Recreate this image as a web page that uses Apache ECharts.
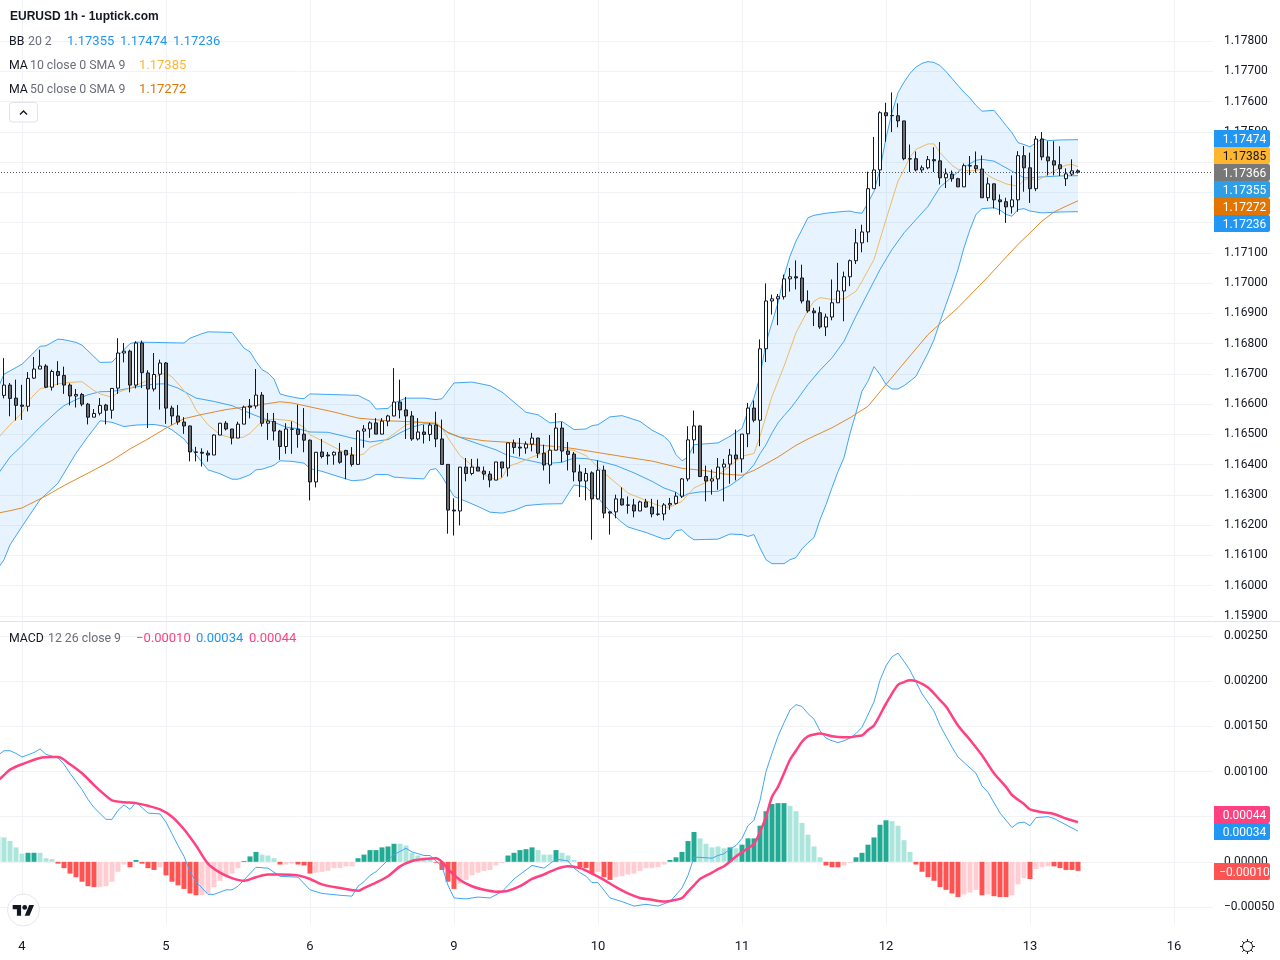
<!DOCTYPE html>
<html>
<head>
<meta charset="utf-8">
<style>html,body{margin:0;padding:0;background:#fff}#c{width:1280px;height:960px}</style>
<script src="https://cdn.jsdelivr.net/npm/echarts@6/dist/echarts.min.js"></script>
</head>
<body>
<div id="c"></div>
<script>
const opens = [1.1664,
1.16629,1.16663,1.1662,1.16597,1.16593,1.16686,1.16716,1.16726,1.16656,1.16708,
1.16695,1.16663,1.16627,1.16632,1.166,1.16557,1.1657,1.16597,1.1658,1.16653,
1.16769,1.16775,1.16663,1.16802,1.16703,1.1665,1.16699,1.16736,1.16587,1.16561,
1.16541,1.16528,1.16442,1.16441,1.16438,1.16432,1.16498,1.16537,1.16518,1.16488,
1.16534,1.16594,1.16594,1.1663,1.16537,1.16543,1.16511,1.1646,1.16517,1.16517,
1.16501,1.16481,1.16343,1.16442,1.16432,1.16432,1.16442,1.16447,1.16432,1.16401,
1.16511,1.16518,1.16538,1.16501,1.16544,1.16561,1.16607,1.16581,1.16561,1.16485,
1.16508,1.165,1.16531,1.16485,1.16401,1.1625,1.16247,1.16392,1.16371,1.16392,
1.16379,1.16369,1.16349,1.16409,1.16389,1.16472,1.16458,1.16455,1.16468,1.16488,
1.16438,1.16399,1.16448,1.16521,1.16445,1.16435,1.16376,1.16346,1.16373,1.16287,
1.16382,1.16244,1.16244,1.16287,1.16267,1.16267,1.16247,1.16277,1.1626,1.16237,
1.16237,1.16267,1.16272,1.16296,1.16353,1.16482,1.16528,1.16361,1.16346,1.16353,
1.16392,1.16402,1.16432,1.16419,1.16502,1.16587,1.16547,1.16783,1.16941,1.16948,
1.16955,1.17014,1.17021,1.17017,1.16941,1.16908,1.16902,1.16855,1.16888,1.16935,
1.16974,1.17021,1.17074,1.17133,1.17169,1.17312,1.17374,1.17563,1.17553,1.17553,
1.17536,1.17411,1.17411,1.17374,1.17381,1.17408,1.17404,1.17348,1.1736,1.17345,
1.17318,1.17388,1.17388,1.17377,1.17282,1.17328,1.17275,1.17269,1.17252,1.17275,
1.17421,1.17381,1.17312,1.17476,1.17417,1.17404,1.17391,1.17345,1.1736,1.17371];
const closes = [1.1663,
1.16663,1.16619,1.16596,1.16593,1.16685,1.16716,1.16726,1.16656,1.16708,1.16695,
1.16663,1.16627,1.16632,1.166,1.16557,1.16569,1.16596,1.1658,1.16652,1.16769,
1.16775,1.16663,1.16802,1.16704,1.1665,1.16698,1.16736,1.16587,1.16561,1.16541,
1.16528,1.16442,1.16441,1.16438,1.16432,1.16498,1.16537,1.16518,1.16488,1.16534,
1.1659,1.1659,1.1663,1.16537,1.16544,1.16511,1.1646,1.16518,1.16518,1.165,
1.16481,1.16343,1.16441,1.16427,1.16429,1.16441,1.16408,1.16432,1.16401,1.16511,
1.16518,1.16538,1.16501,1.16544,1.16561,1.16607,1.16581,1.16561,1.16485,1.16508,
1.165,1.16531,1.16485,1.16401,1.1625,1.16247,1.16392,1.16371,1.16392,1.16379,
1.16369,1.16349,1.16409,1.16389,1.16472,1.16457,1.16455,1.16468,1.16488,1.16438,
1.16399,1.16448,1.16521,1.16445,1.16434,1.16376,1.16346,1.16371,1.16287,1.16382,
1.1624,1.1624,1.16287,1.16267,1.16266,1.16247,1.16277,1.1626,1.16237,1.16236,
1.16267,1.16272,1.16296,1.16353,1.16482,1.16528,1.16361,1.16346,1.16353,1.16392,
1.16402,1.16432,1.16419,1.16501,1.16587,1.16547,1.16783,1.16941,1.16948,1.16955,
1.17014,1.17021,1.17017,1.16941,1.16908,1.16902,1.16855,1.16888,1.16935,1.16974,
1.17021,1.17074,1.17133,1.17169,1.17312,1.17374,1.17563,1.17553,1.17554,1.17536,
1.17411,1.1741,1.17374,1.17381,1.17408,1.17404,1.17348,1.17361,1.17345,1.17318,
1.17388,1.17387,1.17378,1.17282,1.17328,1.17275,1.17269,1.17252,1.17275,1.17421,
1.17381,1.17312,1.17476,1.17417,1.17404,1.1739,1.17378,1.17361,1.17371,1.17366];
const highs = [1.1669,
1.16752,1.1667,1.16681,1.16664,1.16706,1.16756,1.1678,1.16732,1.16714,1.16742,
1.16724,1.16669,1.1665,1.16637,1.16604,1.16584,1.1662,1.16601,1.16653,1.16818,
1.16802,1.1678,1.16808,1.1681,1.16712,1.16769,1.16747,1.16739,1.16595,1.16597,
1.16557,1.16529,1.16459,1.16454,1.16447,1.165,1.16537,1.16544,1.16518,1.16542,
1.16595,1.16617,1.16716,1.1664,1.16571,1.16571,1.16515,1.16537,1.16543,1.16598,
1.16587,1.16483,1.16442,1.16485,1.16442,1.16444,1.16472,1.16449,1.16458,1.16514,
1.16531,1.16543,1.16554,1.16554,1.16565,1.16719,1.16681,1.16624,1.16577,1.16554,
1.16532,1.16538,1.16575,1.16549,1.16402,1.16289,1.16392,1.16422,1.16419,1.1642,
1.16394,1.16379,1.16409,1.16409,1.16472,1.16483,1.16488,1.16477,1.16505,1.16489,
1.16466,1.16498,1.16571,1.16541,1.16475,1.16442,1.164,1.16389,1.16378,1.16414,
1.16397,1.16246,1.16301,1.16325,1.16295,1.16287,1.16281,1.16287,1.16287,1.16284,
1.16273,1.1629,1.16309,1.16356,1.16527,1.16579,1.1653,1.16397,1.16384,1.16422,
1.16419,1.16452,1.16516,1.16501,1.16604,1.16612,1.16814,1.16999,1.16962,1.16964,
1.17028,1.1705,1.17075,1.17061,1.16976,1.16918,1.16922,1.16899,1.17012,1.17067,
1.17038,1.17078,1.17179,1.17193,1.17368,1.17483,1.17568,1.17596,1.1763,1.17594,
1.17536,1.17458,1.17435,1.17389,1.1742,1.17449,1.17466,1.17379,1.17372,1.17348,
1.17395,1.1742,1.17435,1.17422,1.17349,1.17328,1.17293,1.17282,1.17356,1.17436,
1.17453,1.17431,1.17486,1.17499,1.17469,1.17469,1.17452,1.17379,1.17409,1.17376];
const lows = [1.1661,
1.16619,1.1656,1.16546,1.16548,1.16576,1.16683,1.16716,1.16653,1.16645,1.16663,
1.16634,1.16596,1.16589,1.16593,1.16533,1.16557,1.16563,1.16533,1.16552,1.16634,
1.16738,1.16639,1.16652,1.16653,1.16521,1.16642,1.16582,1.16535,1.16532,1.16532,
1.16502,1.16411,1.16411,1.16394,1.1641,1.16432,1.16498,1.16513,1.16467,1.16488,
1.16534,1.16553,1.16585,1.16526,1.16482,1.1648,1.16416,1.16436,1.16436,1.16456,
1.16441,1.16282,1.16325,1.16421,1.164,1.164,1.16403,1.16352,1.16394,1.16399,
1.16456,1.16489,1.16501,1.16501,1.16527,1.1656,1.16553,1.16485,1.16479,1.1648,
1.1647,1.16478,1.16458,1.164,1.16172,1.16166,1.16199,1.16345,1.16365,1.16379,
1.1635,1.16325,1.16349,1.16358,1.16361,1.16436,1.16427,1.16436,1.16444,1.16422,
1.16381,1.16337,1.16447,1.16408,1.16381,1.16345,1.16293,1.16282,1.16152,1.16284,
1.16223,1.16169,1.16223,1.16265,1.16238,1.16226,1.16247,1.16258,1.16226,1.16231,
1.16216,1.16251,1.16268,1.1629,1.16345,1.16437,1.16359,1.16279,1.16301,1.16317,
1.16279,1.16337,1.16348,1.16374,1.16458,1.1654,1.16461,1.16739,1.16896,1.16861,
1.16946,1.16972,1.16979,1.16933,1.16902,1.16858,1.16849,1.16825,1.16877,1.16935,
1.16874,1.1699,1.17063,1.17102,1.17135,1.17312,1.1732,1.17467,1.17499,1.17515,
1.17406,1.17367,1.17369,1.17365,1.17376,1.17367,1.17326,1.17314,1.17335,1.17318,
1.17318,1.17357,1.17365,1.17282,1.17271,1.17247,1.17226,1.17199,1.1723,1.17236,
1.17302,1.17265,1.17304,1.17406,1.17356,1.17356,1.17354,1.17321,1.17354,1.17362];

// Indicator curves: [bar number, value]
const bbUpper = [[0,1.16653],[1,1.16699],[4,1.16732],[7,1.16791],[8,1.16793],[10,1.16815],[11,1.16813],[13,1.16804],[14,1.16795],[17,1.16738],[19,1.16739],[20,1.1676],[22,1.168],[23,1.16805],[26,1.16804],[31,1.16802],[32,1.16818],[34,1.16833],[35,1.16839],[39,1.16837],[41,1.16785],[42,1.16773],[43,1.16741],[44,1.16714],[45,1.16703],[46,1.16683],[47,1.16634],[48,1.16628],[50,1.1662],[51,1.16618],[52,1.16634],[60,1.16629],[62,1.16609],[63,1.16584],[65,1.16586],[66,1.16604],[68,1.1662],[71,1.1662],[73,1.16615],[74,1.16618],[76,1.1667],[79,1.16673],[82,1.16661],[84,1.1664],[88,1.16573],[90,1.16565],[92,1.16538],[94,1.16543],[96,1.16516],[98,1.16518],[99,1.16529],[100,1.16532],[102,1.16558],[104,1.16562],[107,1.16543],[109,1.16514],[111,1.16494],[112,1.16474],[113,1.16433],[114,1.16413],[115,1.16425],[116,1.16466],[120,1.16472],[122,1.16494],[124,1.1652],[125,1.16578],[126,1.16621],[127,1.16692],[128,1.16803],[129,1.16869],[130,1.16935],[131,1.17023],[132,1.17089],[133,1.17139],[134,1.17177],[135,1.17216],[136,1.17224],[138,1.17231],[141,1.17237],[142,1.17238],[143,1.17233],[144,1.17231],[145,1.17265],[146,1.17304],[147,1.17375],[148,1.1748],[149,1.17563],[150,1.17629],[151,1.17664],[152,1.17693],[153,1.17714],[154,1.17726],[155,1.17732],[156,1.17729],[157,1.17719],[158,1.17699],[159,1.17676],[160,1.17653],[161,1.17631],[162,1.17611],[163,1.17587],[164,1.17568],[166,1.17571],[167,1.17546],[168,1.17521],[169,1.17497],[170,1.17464],[171,1.17458],[172,1.1745],[173,1.17464],[174,1.17477],[175,1.17471],[177,1.17473],[180,1.17474]];
const bbLower = [[0,1.16058],[1,1.16086],[2,1.16135],[4,1.16196],[7,1.16284],[10,1.16339],[13,1.16438],[15,1.16493],[17,1.16545],[19,1.1654],[21,1.16526],[23,1.16531],[26,1.16533],[28,1.16526],[29,1.16515],[31,1.16485],[33,1.16433],[35,1.16383],[37,1.1637],[39,1.16352],[40,1.16352],[41,1.16359],[42,1.16367],[43,1.16383],[44,1.16385],[46,1.16398],[47,1.16413],[49,1.16411],[51,1.16405],[52,1.16387],[54,1.16378],[57,1.16359],[59,1.16347],[61,1.1635],[62,1.16357],[63,1.16368],[65,1.16367],[66,1.16359],[68,1.16356],[71,1.16353],[72,1.16383],[73,1.16387],[74,1.16361],[76,1.16295],[78,1.16279],[80,1.16262],[82,1.16243],[84,1.1624],[86,1.16249],[88,1.16265],[91,1.1627],[94,1.16271],[96,1.16333],[98,1.16326],[99,1.16306],[100,1.1629],[102,1.16246],[103,1.16227],[104,1.16209],[105,1.16194],[108,1.16176],[110,1.16161],[111,1.16154],[112,1.16157],[113,1.16182],[114,1.16185],[115,1.16165],[116,1.16152],[120,1.16154],[122,1.16171],[124,1.16169],[125,1.16163],[126,1.16169],[127,1.16125],[128,1.16086],[129,1.16073],[131,1.16073],[132,1.16086],[133,1.16093],[134,1.16122],[135,1.16142],[136,1.16159],[137,1.16218],[138,1.16268],[139,1.16324],[140,1.16377],[141,1.16423],[142,1.16503],[143,1.16571],[144,1.16643],[145,1.16676],[146,1.16724],[147,1.16698],[148,1.16665],[149,1.1665],[150,1.1665],[151,1.16661],[152,1.16676],[153,1.16692],[154,1.16731],[155,1.16769],[156,1.16813],[157,1.16873],[158,1.16929],[159,1.16985],[160,1.17045],[161,1.17117],[162,1.17177],[163,1.17227],[164,1.17246],[166,1.17249],[167,1.17241],[168,1.17227],[169,1.17221],[170,1.17243],[171,1.17246],[172,1.17238],[174,1.17232],[177,1.17235],[180,1.17236]];
const bbMiddle = [[0,1.16369],[2,1.16425],[4,1.16463],[7,1.16524],[10,1.16579],[11,1.16595],[13,1.16615],[15,1.16631],[17,1.16641],[19,1.16642],[22,1.16653],[25,1.16664],[27,1.16667],[28,1.16667],[30,1.16653],[33,1.1662],[36,1.16609],[39,1.16595],[42,1.1657],[44,1.16554],[46,1.1654],[48,1.16524],[50,1.16519],[52,1.16508],[55,1.16507],[59,1.16488],[62,1.16475],[65,1.16483],[67,1.16505],[69,1.16524],[71,1.16535],[73,1.16535],[75,1.16505],[78,1.16483],[80,1.16469],[83,1.16449],[85,1.1643],[88,1.16416],[91,1.16403],[94,1.16408],[96,1.16422],[98,1.1642],[100,1.16413],[103,1.16397],[106,1.16373],[109,1.16345],[111,1.16323],[113,1.16309],[114,1.16293],[115,1.16304],[117,1.1631],[120,1.16312],[122,1.16331],[124,1.16359],[125,1.16378],[126,1.164],[127,1.16436],[128,1.16466],[129,1.16505],[130,1.16538],[131,1.16562],[132,1.16584],[133,1.1661],[135,1.16665],[137,1.16712],[139,1.16753],[141,1.16808],[143,1.16891],[145,1.16968],[147,1.17045],[149,1.17111],[151,1.17166],[153,1.1721],[155,1.17254],[157,1.17317],[159,1.17351],[161,1.17383],[163,1.17406],[164,1.17409],[166,1.17403],[167,1.17392],[169,1.1737],[171,1.17348],[172,1.17348],[174,1.17351],[177,1.17354],[180,1.17355]];
const ma10 = [[0,1.16488],[2,1.16532],[4,1.16571],[5,1.16609],[7,1.16651],[8,1.16655],[10,1.16667],[12,1.16672],[14,1.16674],[16,1.16645],[17,1.16634],[19,1.16623],[20,1.16639],[22,1.16653],[24,1.1667],[27,1.16697],[28,1.16703],[29,1.1669],[31,1.16645],[32,1.1662],[33,1.16581],[35,1.16532],[37,1.16499],[39,1.16488],[41,1.16491],[42,1.16504],[44,1.16543],[46,1.16551],[49,1.16545],[51,1.16524],[52,1.16499],[54,1.16479],[56,1.16458],[58,1.16438],[60,1.1643],[61,1.16436],[62,1.16457],[64,1.16474],[66,1.16502],[68,1.16532],[70,1.1654],[73,1.1654],[74,1.16521],[75,1.16488],[77,1.1643],[78,1.16414],[81,1.16367],[83,1.1635],[84,1.16356],[85,1.16394],[87,1.16408],[89,1.16425],[92,1.16446],[94,1.16453],[96,1.16447],[98,1.1643],[100,1.16392],[102,1.16356],[104,1.16323],[105,1.16306],[107,1.1629],[109,1.16273],[111,1.16259],[112,1.1626],[114,1.16279],[115,1.16301],[116,1.16323],[118,1.16342],[120,1.16367],[122,1.16395],[124,1.16428],[126,1.16437],[127,1.16494],[129,1.16626],[131,1.16725],[133,1.16836],[135,1.16911],[136,1.1694],[137,1.16952],[139,1.16946],[141,1.16948],[143,1.16973],[144,1.17006],[146,1.17078],[148,1.1721],[150,1.17337],[151,1.17375],[152,1.17417],[153,1.17442],[155,1.1746],[156,1.1746],[157,1.17431],[159,1.17389],[160,1.17376],[162,1.1737],[164,1.17376],[165,1.17356],[166,1.17345],[168,1.17328],[170,1.1732],[171,1.1734],[172,1.17348],[173,1.17337],[175,1.17359],[177,1.17381],[178,1.1739],[179,1.17392],[180,1.17385]];
const ma50 = [[0,1.1624],[2,1.16248],[4,1.16257],[7,1.16287],[8,1.16297],[11,1.16331],[15,1.16372],[19,1.16414],[22,1.16452],[25,1.16485],[28,1.16521],[31,1.16552],[34,1.16566],[38,1.16582],[42,1.16593],[45,1.16602],[47,1.16608],[49,1.16604],[52,1.16591],[56,1.16574],[60,1.16554],[65,1.16545],[70,1.16541],[73,1.16535],[75,1.16507],[77,1.16491],[81,1.16479],[85,1.16474],[90,1.16465],[94,1.16458],[96,1.16453],[100,1.1644],[105,1.16424],[109,1.16412],[114,1.16388],[118,1.1638],[121,1.16369],[124,1.16365],[126,1.16381],[128,1.16403],[130,1.16425],[133,1.16464],[135,1.16485],[139,1.16522],[142,1.16555],[145,1.16593],[148,1.16665],[151,1.16736],[155,1.1683],[160,1.16919],[165,1.17021],[170,1.17128],[172,1.17166],[174,1.17205],[176,1.17235],[178,1.17254],[180,1.17272]];
const macdLine = [[0,.00118],[1,.00123],[2,.00123],[3,.0012],[4,.00116],[6,.00121],[7,.00125],[8,.00119],[10,.00115],[11,.00108],[12,.00098],[14,.0008],[15,.00069],[16,.0006],[18,.00047],[19,.00047],[20,.00057],[21,.00063],[22,.00058],[23,.00066],[25,.00054],[27,.00053],[28,.00044],[30,.00018],[31,.00006],[32,-.00011],[33,-.00022],[35,-.00036],[36,-.00036],[38,-.00031],[39,-.00031],[40,-.00027],[43,-.00006],[45,-.00007],[47,-.00016],[50,-.00017],[52,-.00031],[54,-.00035],[57,-.00037],[59,-.00038],[60,-.00027],[61,-.00022],[62,-.00015],[63,-.00011],[65,.00002],[66,.00008],[68,.00015],[69,.00011],[71,.00007],[72,.00007],[74,-.00005],[75,-.00026],[76,-.0004],[78,-.00041],[80,-.00039],[82,-.0004],[84,-.00033],[85,-.00026],[86,-.00019],[89,-.00004],[91,-.00007],[93,.00003],[95,.00001],[96,-.00007],[97,-.00012],[98,-.00016],[99,-.00023],[100,-.00023],[102,-.0004],[104,-.00044],[106,-.00049],[108,-.00047],[110,-.00049],[112,-.00044],[114,-.00029],[115,-.00015],[116,.00005],[117,.00005],[119,.00004],[120,.00007],[121,.00009],[122,.00014],[123,.00018],[124,.00026],[125,.0004],[126,.00046],[127,.00068],[128,.001],[129,.0012],[130,.00139],[131,.00154],[132,.00168],[133,.00174],[134,.00172],[135,.00164],[136,.00158],[137,.00145],[138,.00137],[139,.00134],[140,.00132],[141,.00134],[142,.00137],[143,.00142],[144,.00149],[146,.00177],[147,.00201],[148,.00217],[149,.00227],[150,.00231],[151,.00222],[152,.00212],[153,.00199],[154,.00186],[156,.00167],[157,.00151],[159,.00127],[160,.00116],[163,.00098],[164,.00084],[165,.00077],[167,.00054],[169,.00038],[170,.00043],[171,.00044],[172,.0004],[173,.00049],[175,.0005],[176,.00048],[178,.00041],[180,.00034]];
const macdSignal = [[0,.0009],[1,.00096],[2,.00102],[4,.00108],[7,.00115],[9,.00116],[10,.00116],[12,.00108],[14,.00098],[16,.00085],[18,.00073],[19,.00068],[21,.00066],[23,.00065],[25,.00062],[27,.00058],[29,.0005],[31,.00036],[33,.00018],[35,-.00002],[37,-.00012],[39,-.00018],[41,-.00021],[43,-.00017],[45,-.00014],[47,-.00014],[50,-.00015],[52,-.00019],[54,-.00025],[57,-.00029],[60,-.00032],[61,-.00029],[63,-.00023],[65,-.00016],[67,-.00005],[69,.00001],[71,.00003],[73,.00004],[74,0],[75,-.00008],[77,-.0002],[79,-.00027],[81,-.00031],[83,-.00033],[85,-.00032],[87,-.00027],[89,-.00019],[91,-.00014],[93,-.00008],[95,-.00005],[97,-.00007],[99,-.00013],[101,-.0002],[103,-.00028],[105,-.00035],[107,-.0004],[109,-.00042],[111,-.00044],[113,-.00042],[114,-.0004],[115,-.00033],[116,-.00026],[117,-.00019],[119,-.00012],[120,-.00008],[121,-.00005],[123,.00006],[125,.00015],[126,.0002],[127,.00033],[128,.0005],[129,.00072],[130,.00083],[131,.00098],[132,.00113],[133,.00123],[134,.00133],[135,.00139],[136,.00141],[137,.00142],[139,.00139],[141,.00138],[142,.00138],[143,.00139],[144,.0014],[145,.00146],[146,.00151],[148,.00175],[150,.00196],[151,.00199],[152,.00201],[153,.002],[155,.00193],[157,.00179],[158,.00172],[160,.00151],[162,.00135],[164,.00118],[166,.00098],[168,.00083],[169,.00074],[171,.00064],[172,.00058],[174,.00055],[176,.00053],[178,.00048],[180,.00044]];
const macdHist = [.00028,.00027,.00023,.00016,.00009,.0001,.0001,.0001,.00004,.00003,
-.00002,-.00007,-.00013,-.00017,-.00022,-.00027,-.00028,-.00028,-.00027,-.00022,
-.00011,-.00003,-.00006,.00002,-.00002,-.00007,-.00009,-.00006,-.00015,-.00022,
-.00026,-.0003,-.00035,-.00037,-.00037,-.00035,-.00028,-.00021,-.00015,-.00013,
-.00007,.00001,.00006,.00011,.00008,.00007,.00004,-.00003,-.00003,-.00002,
-.00003,-.00004,-.00013,-.00012,-.00011,-.0001,-.00007,-.00007,-.00005,-.00005,
.00004,.00008,.00013,.00013,.00016,.00017,.0002,.0002,.00018,.0001,
.00007,.00005,.00004,-.00001,-.00009,-.00022,-.0003,-.00024,-.0002,-.00015,
-.00012,-.0001,-.00009,-.00004,-.00001,.00007,.0001,.00013,.00014,.00016,
.00013,.00008,.00008,.00013,.0001,.00007,.00002,-.00006,-.00007,-.00013,
-.00011,-.00017,-.0002,-.00017,-.00016,-.00014,-.00013,-.0001,-.00007,-.00007,
-.00006,-.00003,.00002,.00005,.00011,.00023,.00033,.00026,.0002,.00016,
.00017,.00015,.00016,.00015,.00019,.00026,.00026,.0004,.00056,.00064,
.00065,.00065,.00062,.00056,.00043,.0003,.00017,.00005,-.00004,-.00006,
-.00006,-.00004,-.00001,.00005,.0001,.00019,.00027,.00041,.00046,.00045,
.0004,.00024,.00011,-.00003,-.00011,-.00017,-.00021,-.00028,-.00031,-.00035,
-.00039,-.00036,-.00034,-.00031,-.00037,-.00036,-.00038,-.00039,-.00039,-.00037,
-.00025,-.00018,-.00019,-.00008,-.00006,-.00005,-.00005,-.00007,-.00009,-.00009,
-.0001];
// S = strong bar, L = faded bar
const histShade = ("LLLLL"+"SS"+"LLL"+"SSSSSSS"+"LLLLL"+"SS"+"SSS"+"L"+"SSSSSS"+"LLLLLLL"+"SSS"+"LLL"+"S"+"LL"+"SSS"+"LLLLLLL"+"SSSSSSS"+"LLLLLL"+"SSSS"+"LLLLLLLL"+"SSSSS"+"LLL"+"S"+"LLL"+"SSS"+"L"+"SS"+"LLLLLLLLL"+"SSSSS"+"LLLLL"+"S"+"L"+"SSSSSSSS"+"LLLLLL"+"SSS"+"LL"+"SSSSSS"+"LLLL"+"SSSSSSSS"+"LLL"+"S"+"L"+"SSS"+"LLL"+"S"+"LLL"+"SSSSS");
const lastPrice = 1.17366;
const dayLabels = {4:'4',28:'5',52:'6',76:'9',100:'10',124:'11',148:'12',172:'13',196:'16'};
const barSlots = 203;

const priceTags = [
  ['1.17474',138.5,'#2196F3','#fff'],['1.17385',155.5,'#FFB62E','#131722'],['1.17366',172.5,'#787878','#fff'],
  ['1.17355',189.5,'#2E9FE6','#fff'],['1.17272',206.5,'#E27400','#fff'],['1.17236',223.5,'#2196F3','#fff'],
  ['0.00044',814.5,'#FF4081','#fff'],['0.00034',831.5,'#2196F3','#fff'],['\u22120.00010',871.5,'#FF5252','#fff']
];
const FONT='Roboto, sans-serif', INK='#131722', DIM='#6A6D78', GRID='#F1F2F5';

const categories = [];
for (let i=0;i<barSlots;i++) categories.push(dayLabels[i]||'');
const hasLabel = (i,v)=>v!=='';

const chart = echarts.init(document.getElementById('c'),null,{renderer:'canvas'});

function xAxisFor(grid,show){
  return {type:'category',gridIndex:grid,data:categories,boundaryGap:true,
    axisLine:{show:false},axisTick:{show:false},
    axisLabel:show?{show:true,interval:hasLabel,color:INK,fontFamily:FONT,fontSize:13,margin:15,hideOverlap:false}:{show:false},
    splitLine:show?{show:true,interval:hasLabel,alignWithLabel:true,lineStyle:{color:GRID,width:1}}:{show:false}};
}
function lineSeries(name,data,color,width,x,y,z,smooth){
  return {name,type:'line',data,xAxisIndex:x,yAxisIndex:y,showSymbol:false,symbol:'none',silent:true,z,
    smooth:smooth||false,lineStyle:{color,width},emphasis:{disabled:true}};
}
function text(x,y,t,fill,size){
  return {type:'text',x,y:y+1,z:100,silent:true,style:{text:t,fill,font:size+'px '+FONT,textVerticalAlign:'middle'}};
}
const gfx = [];
gfx.push({type:'line',z:50,silent:true,shape:{x1:0,y1:621.5,x2:1280,y2:621.5},style:{stroke:'#E0E3EB',lineWidth:1}});
gfx.push({type:'text',x:10,y:16.5,z:100,style:{text:'EURUSD 1h - 1uptick.com',fill:INK,font:'bold 12px "Liberation Sans", Arial, sans-serif',textVerticalAlign:'middle'}});
[[9,41,'BB',INK,12.3],[28,41,'20 2',DIM,12.3],[67,41,'1.17355','#2196F3',13],[120,41,'1.17474','#2196F3',13],[173,41,'1.17236','#2196F3',13],
 [9,65,'MA',INK,12.3],[30,65,'10 close 0 SMA 9',DIM,12.3],[139,65,'1.17385','#FFB62E',13],
 [9,89,'MA',INK,12.3],[30,89,'50 close 0 SMA 9',DIM,12.3],[139,89,'1.17272','#E27400',13],
 [9,638,'MACD',INK,12.3],[48,638,'12 26 close 9',DIM,12.3],[136,638,'\u22120.00010','#FF4081',13],[196,638,'0.00034','#2196F3',13],[249,638,'0.00044','#FF4081',13]
].forEach(r=>gfx.push(text(r[0],r[1],r[2],r[3],r[4])));
gfx.push({type:'rect',z:100,shape:{x:9.5,y:102.5,width:28,height:19.5,r:3},style:{fill:'#fff',stroke:'#E0E3EB',lineWidth:1}});
gfx.push({type:'polyline',z:101,shape:{points:[[20,114.5],[23.5,111],[27,114.5]]},style:{fill:null,stroke:INK,lineWidth:1.4}});
priceTags.forEach(t=>{
  gfx.push({type:'rect',z:90,shape:{x:1214,y:t[1]-8.5,width:56,height:17,r:[0,2,2,0]},style:{fill:t[2]}});
  gfx.push({type:'text',x:1244.5,y:t[1]+1,z:91,style:{text:t[0],fill:t[3],font:'12px '+FONT,textAlign:'center',textVerticalAlign:'middle'}});
});
// logo badge
const lg=(p)=>p.map(q=>[12.7+q[0]*0.6,902.6+q[1]*0.6]);
gfx.push({type:'circle',z:100,shape:{cx:23.5,cy:910,r:16},style:{fill:'#fff',stroke:'#E6E7EA',lineWidth:1}});
gfx.push({type:'polygon',z:101,shape:{points:lg([[14,22],[7,22],[7,11],[0,11],[0,4],[14,4]])},style:{fill:INK}});
gfx.push({type:'polygon',z:101,shape:{points:lg([[28,22],[20,22],[27.5,4],[35.5,4]])},style:{fill:INK}});
gfx.push({type:'circle',z:101,shape:{cx:12.7+20*0.6,cy:902.6+8*0.6,r:2.4},style:{fill:INK}});
// settings icon
gfx.push({type:'circle',z:100,shape:{cx:1247.5,cy:946.5,r:5},style:{fill:null,stroke:INK,lineWidth:1}});
for(let a=0;a<8;a++){const c=Math.cos(a*Math.PI/4),s=Math.sin(a*Math.PI/4);
  gfx.push({type:'line',z:100,shape:{x1:1247.5+c*5,y1:946.5+s*5,x2:1247.5+c*7.5,y2:946.5+s*7.5},style:{stroke:INK,lineWidth:1}});}

const option = {
  animation:false,backgroundColor:'#fff',
  grid:[
    {left:-5,top:0,width:1218,height:925,outerBoundsMode:'none'},
    {left:-5,top:41,width:1218,height:575,outerBoundsMode:'none'},
    {left:-5,top:636,width:1218,height:271,outerBoundsMode:'none'}
  ],
  xAxis:[xAxisFor(0,true),xAxisFor(1,false),xAxisFor(2,false)],
  yAxis:[
    {type:'value',gridIndex:0,min:0,max:1,show:false,splitLine:{show:false}},
    {type:'value',gridIndex:1,position:'right',min:1.159,max:1.178,interval:0.001,scale:true,
      axisLine:{show:false},axisTick:{show:false},splitLine:{show:true,lineStyle:{color:GRID,width:1}},
      axisLabel:{color:INK,fontFamily:FONT,fontSize:12,margin:11,padding:[6,0,0,0],formatter:v=>v.toFixed(5)}},
    {type:'value',gridIndex:2,position:'right',min:-0.0005,max:0.0025,interval:0.0005,
      axisLine:{show:false},axisTick:{show:false},splitLine:{show:true,lineStyle:{color:GRID,width:1}},
      axisLabel:{color:INK,fontFamily:FONT,fontSize:12,margin:11,padding:[6,0,0,0],formatter:v=>(Math.abs(v)<1e-9?'0.00000':(v<0?'\u2212':'')+Math.abs(v).toFixed(5))}}
  ],
  series:[
    {name:'BB fill',type:'custom',xAxisIndex:1,yAxisIndex:1,silent:true,z:1,data:[[0,1.17]],
      renderItem:(p,api)=>{
        const pts=bbUpper.map(d=>api.coord(d)).concat(bbLower.slice().reverse().map(d=>api.coord(d)));
        return {type:'polygon',shape:{points:pts},style:{fill:'rgba(33,150,243,0.11)',stroke:null}};
      }},
    lineSeries('BB upper',bbUpper,'#42A5F5',1,1,1,2),
    lineSeries('BB lower',bbLower,'#42A5F5',1,1,1,2),
    lineSeries('BB middle',bbMiddle,'#42A5F5',1,1,1,2),
    lineSeries('MA 10',ma10,'#EDBB66',1,1,1,3),
    lineSeries('MA 50',ma50,'#E2892A',1,1,1,3),
    {name:'EURUSD',type:'candlestick',xAxisIndex:1,yAxisIndex:1,z:4,silent:true,barWidth:4,
      data:opens.map((o,i)=>[o,closes[i],lows[i],highs[i]]),
      itemStyle:{color:'#ffffff',color0:'#6E6E6E',borderColor:INK,borderColor0:INK,borderWidth:1},
      markLine:{silent:true,symbol:'none',animation:false,z:5,precision:5,label:{show:false},
        lineStyle:{type:[1,2],color:'#555a66',width:1},data:[{yAxis:lastPrice}]}},
    {name:'Histogram',type:'bar',xAxisIndex:2,yAxisIndex:2,silent:true,z:2,barWidth:5,
      data:macdHist.map((v,i)=>({value:v,itemStyle:{color:v>=0?(histShade[i]==='S'?'#22AB94':'#ACE5DC'):(histShade[i]==='S'?'#FF5252':'#FFCDD2')}}))},
    lineSeries('MACD',macdLine,'#42A5F5',1,2,2,3),
    lineSeries('Signal',macdSignal,'#FF4081',2.5,2,2,4,0.3)
  ],
  graphic:{elements:gfx}
};
chart.setOption(option);
</script>
</body>
</html>
